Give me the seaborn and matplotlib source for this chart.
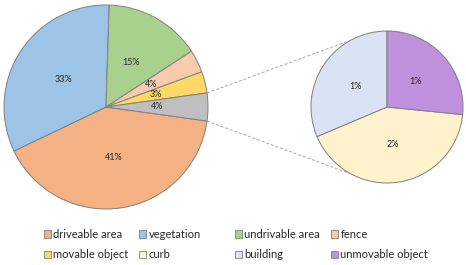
import numpy as np
import matplotlib
matplotlib.use("Agg")
import matplotlib.pyplot as plt
import seaborn as sns
from matplotlib.patches import Patch

# share of each class, in percent of all points
main_labels = ["driveable area", "vegetation", "undrivable area", "fence", "movable object"]
main_values = [40.7, 32.6, 15.3, 3.6, 3.4]
main_colors = ["#F4B183", "#9DC3E6", "#A9D18E", "#F8CBAD", "#FFD966"]

# the small classes, pulled out into the second pie
sub_labels = ["curb", "building", "unmovable object"]
sub_values = [1.85, 1.38, 1.17]
sub_colors = ["#FFF2CC", "#DAE3F3", "#BF91DC"]

other_color = "#BFBFBF"
legend_order = ["driveable area", "vegetation", "undrivable area", "fence",
                "movable object", "curb", "building", "unmovable object"]

sns.set_theme(style="white")
plt.rcParams["font.family"] = ["Lato", "DejaVu Sans"]

W, H = 466, 265
fig = plt.figure(figsize=(W / 100, H / 100), dpi=100)
ax = fig.add_axes([0, 0, 1, 1])

px = 102.0  # pixels per unit radius of the big pie
cx, cy = 106, 107

other = sum(sub_values)
vals = main_values + [other]
cols = main_colors + [other_color]
other_deg = 360 * other / sum(vals)

wedge_kw = dict(edgecolor="#7F7F7F", linewidth=0.7)
txt_kw = dict(fontsize=6.5, color="#262626")

# big pie: "other" slice centred on the right, the rest clockwise from it
ax.pie(vals, colors=cols, center=(0, 0), radius=1.0, counterclock=False,
       startangle=-other_deg / 2, autopct="%.0f%%", pctdistance=0.5,
       wedgeprops=wedge_kw, textprops=txt_kw, frame=True)

# second pie
sx = (387 - cx) / px
sr = 76 / px
unmov_deg = 360 * sub_values[-1] / other
ax.pie(sub_values, colors=sub_colors, center=(sx, 0), radius=sr, counterclock=False,
       startangle=90 - unmov_deg,
       autopct=lambda p: f"{p * other / 100:.0f}%", pctdistance=0.5,
       wedgeprops=wedge_kw, textprops=txt_kw, frame=True)
ax.axis("off")
ax.set_xlim(-cx / px, (W - cx) / px)
ax.set_ylim(-(H - cy) / px, cy / px)

# dashed connectors from the grey slice to the second pie
a = np.deg2rad(other_deg / 2)
b = np.deg2rad(118.5)
for s in (1, -1):
    ax.plot([np.cos(a), sx + sr * np.cos(b)], [s * np.sin(a), s * sr * np.sin(b)],
            ls=(0, (3, 2)), color="#A6A6A6", lw=0.7)

# legend: four columns with even spacing, two rows each
colors = dict(zip(main_labels + sub_labels, main_colors + sub_colors))
col_x = [44, 139, 235, 331]
for i, x in enumerate(col_x):
    names = [legend_order[i], legend_order[i + 4]]
    handles = [Patch(facecolor=colors[n], edgecolor="#7F7F7F", linewidth=0.6) for n in names]
    fig.legend(handles, names, loc="upper left", bbox_to_anchor=(x / W, 1 - 229 / H),
               frameon=False, fontsize=8, handlelength=0.65, handleheight=0.65,
               handletextpad=0.2, labelspacing=0.85, borderpad=0, borderaxespad=0,
               labelcolor="#262626")

fig.savefig("out.png", dpi=100)
